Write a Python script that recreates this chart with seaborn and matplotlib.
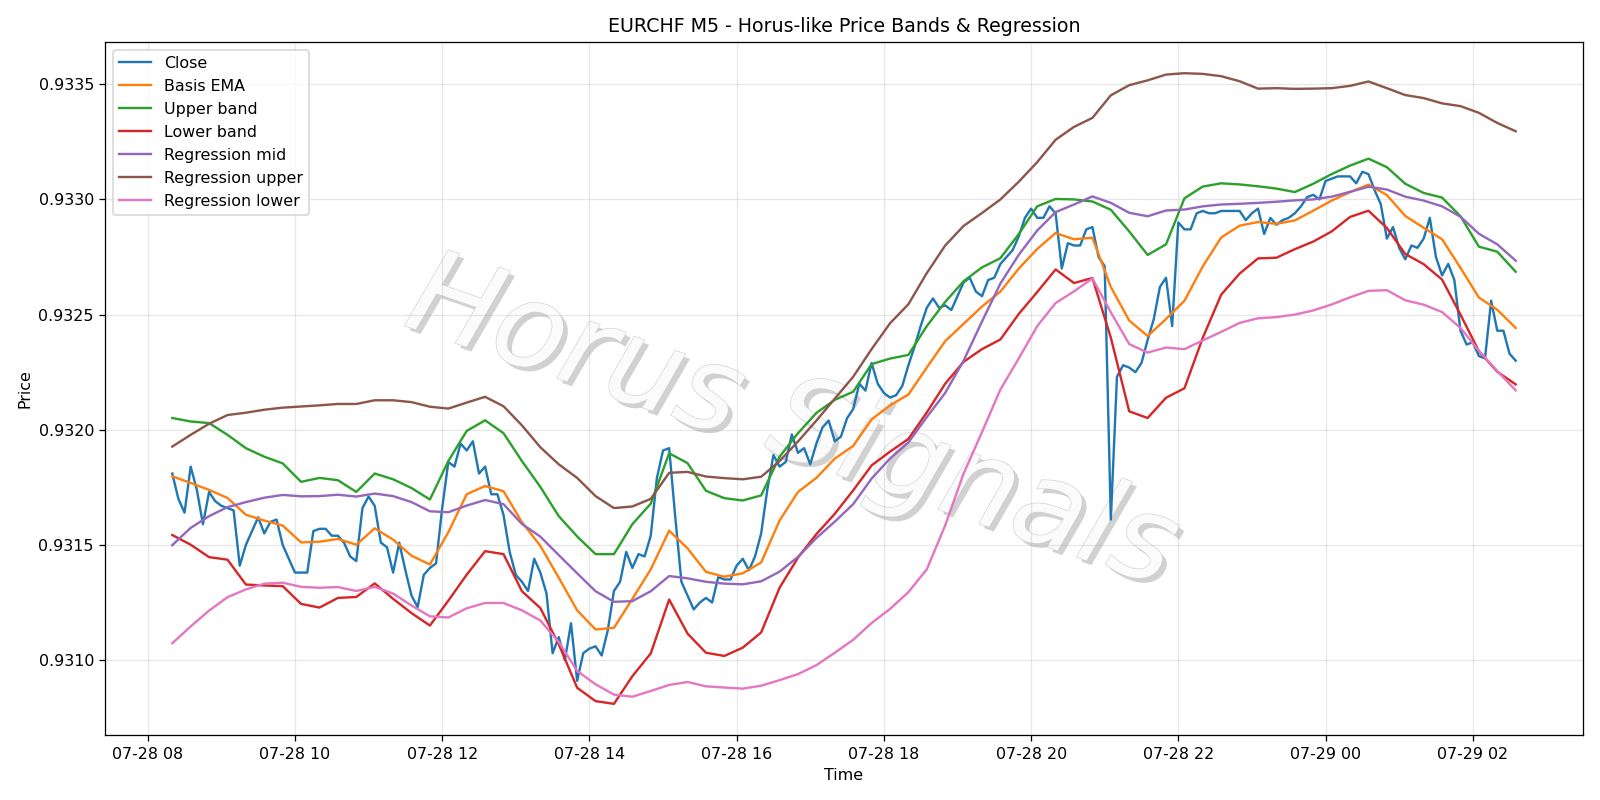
import pandas as pd
import matplotlib
matplotlib.use("Agg")
import matplotlib.pyplot as plt
import matplotlib.patheffects as pe
import seaborn as sns

# EURCHF M5 close, 08:20 -> 02:35 (5 minute bars)
close = [
    0.93181, 0.93170, 0.93164, 0.93184, 0.93174, 0.93159, 0.93173, 0.93169, 0.93167, 0.93166,
    0.93165, 0.93141, 0.93150, 0.93156, 0.93162, 0.93155, 0.93160, 0.93161, 0.93150, 0.93144,
    0.93138, 0.93138, 0.93138, 0.93156, 0.93157, 0.93157, 0.93154, 0.93154, 0.93151, 0.93145,
    0.93143, 0.93166, 0.93171, 0.93167, 0.93151, 0.93149, 0.93138, 0.93151, 0.93139, 0.93128,
    0.93123, 0.93137, 0.93140, 0.93142, 0.93166, 0.93186, 0.93184, 0.93194, 0.93191, 0.93195,
    0.93181, 0.93184, 0.93172, 0.93172, 0.93163, 0.93147, 0.93137, 0.93134, 0.93130, 0.93144,
    0.93138, 0.93129, 0.93103, 0.93110, 0.93100, 0.93116, 0.93091, 0.93103, 0.93105, 0.93106,
    0.93102, 0.93113, 0.93130, 0.93134, 0.93147, 0.93140, 0.93146, 0.93145, 0.93154, 0.93179,
    0.93191, 0.93192, 0.93162, 0.93134, 0.93128, 0.93122, 0.93125, 0.93127, 0.93125, 0.93136,
    0.93135, 0.93135, 0.93141, 0.93144, 0.93139, 0.93145, 0.93155, 0.93174, 0.93189, 0.93184,
    0.93186, 0.93198, 0.93190, 0.93192, 0.93185, 0.93194, 0.93201, 0.93204, 0.93195, 0.93197,
    0.93205, 0.93209, 0.93220, 0.93217, 0.93229, 0.93220, 0.93216, 0.93214, 0.93215, 0.93219,
    0.93228, 0.93236, 0.93245, 0.93253, 0.93257, 0.93253, 0.93254, 0.93252, 0.93258, 0.93264,
    0.93266, 0.93260, 0.93258, 0.93265, 0.93266, 0.93272, 0.93275, 0.93278, 0.93284, 0.93292,
    0.93296, 0.93292, 0.93292, 0.93297, 0.93294, 0.93270, 0.93281, 0.93280, 0.93280, 0.93287,
    0.93288, 0.93275, 0.93271, 0.93161, 0.93223, 0.93228, 0.93227, 0.93225, 0.93229, 0.93239,
    0.93248, 0.93262, 0.93266, 0.93245, 0.93290, 0.93287, 0.93287, 0.93294, 0.93295, 0.93294,
    0.93294, 0.93295, 0.93295, 0.93295, 0.93295, 0.93291, 0.93294, 0.93296, 0.93285, 0.93292,
    0.93289, 0.93291, 0.93292, 0.93294, 0.93297, 0.93301, 0.93302, 0.93300, 0.93308, 0.93309,
    0.93310, 0.93310, 0.93310, 0.93307, 0.93312, 0.93311, 0.93304, 0.93298, 0.93283, 0.93288,
    0.93279, 0.93274, 0.93280, 0.93279, 0.93283, 0.93292, 0.93275, 0.93267, 0.93272, 0.93265,
    0.93243, 0.93237, 0.93238, 0.93232, 0.93231, 0.93256, 0.93243, 0.93243, 0.93233, 0.93230,
]

# indicator lines, read every 15 minutes over the same span
basis_ema = [
    0.931798, 0.931769, 0.931739, 0.931704, 0.931631, 0.931606, 0.931584, 0.931511, 0.931514, 0.931526,
    0.931501, 0.931572, 0.931523, 0.931453, 0.931415, 0.931555, 0.931720, 0.931756, 0.931733, 0.931599,
    0.931496, 0.931358, 0.931216, 0.931133, 0.931140, 0.931266, 0.931394, 0.931562, 0.931485, 0.931383,
    0.931362, 0.931377, 0.931424, 0.931606, 0.931730, 0.931791, 0.931875, 0.931930, 0.932045, 0.932106,
    0.932153, 0.932270, 0.932385, 0.932460, 0.932535, 0.932600, 0.932700, 0.932785, 0.932854, 0.932827,
    0.932834, 0.932620, 0.932474, 0.932407, 0.932481, 0.932560, 0.932710, 0.932835, 0.932886, 0.932902,
    0.932894, 0.932909, 0.932951, 0.932995, 0.933032, 0.933064, 0.933019, 0.932928, 0.932877, 0.932827,
    0.932703, 0.932574, 0.932521, 0.932442,
]
upper_band = [
    0.932051, 0.932036, 0.932029, 0.931978, 0.931920, 0.931883, 0.931854, 0.931774, 0.931791, 0.931781,
    0.931730, 0.931810, 0.931785, 0.931747, 0.931697, 0.931864, 0.931995, 0.932041, 0.931985, 0.931864,
    0.931752, 0.931625, 0.931537, 0.931460, 0.931460, 0.931590, 0.931679, 0.931898, 0.931855, 0.931735,
    0.931703, 0.931693, 0.931715, 0.931883, 0.931985, 0.932073, 0.932130, 0.932165, 0.932285, 0.932309,
    0.932325, 0.932450, 0.932555, 0.932645, 0.932705, 0.932745, 0.932850, 0.932970, 0.933002, 0.933000,
    0.932991, 0.932955, 0.932861, 0.932759, 0.932805, 0.933005, 0.933056, 0.933070, 0.933065, 0.933057,
    0.933047, 0.933032, 0.933068, 0.933110, 0.933147, 0.933177, 0.933140, 0.933068, 0.933028, 0.933008,
    0.932927, 0.932795, 0.932773, 0.932686,
]
lower_band = [
    0.931543, 0.931501, 0.931447, 0.931436, 0.931328, 0.931324, 0.931321, 0.931244, 0.931228, 0.931270,
    0.931274, 0.931333, 0.931266, 0.931204, 0.931150, 0.931258, 0.931371, 0.931473, 0.931460, 0.931299,
    0.931226, 0.931069, 0.930880, 0.930822, 0.930810, 0.930930, 0.931029, 0.931263, 0.931115, 0.931032,
    0.931018, 0.931054, 0.931120, 0.931314, 0.931445, 0.931547, 0.931635, 0.931737, 0.931845, 0.931905,
    0.931960, 0.932075, 0.932200, 0.932295, 0.932350, 0.932392, 0.932503, 0.932598, 0.932696, 0.932637,
    0.932659, 0.932400, 0.932080, 0.932051, 0.932139, 0.932180, 0.932400, 0.932587, 0.932678, 0.932744,
    0.932747, 0.932784, 0.932817, 0.932861, 0.932924, 0.932951, 0.932876, 0.932763, 0.932719, 0.932652,
    0.932500, 0.932341, 0.932252, 0.932197,
]
reg_mid = [
    0.931499, 0.931574, 0.931625, 0.931664, 0.931686, 0.931705, 0.931717, 0.931711, 0.931712, 0.931718,
    0.931710, 0.931723, 0.931712, 0.931686, 0.931646, 0.931642, 0.931671, 0.931695, 0.931677, 0.931591,
    0.931536, 0.931456, 0.931377, 0.931299, 0.931253, 0.931256, 0.931299, 0.931365, 0.931355, 0.931340,
    0.931332, 0.931329, 0.931342, 0.931384, 0.931448, 0.931530, 0.931601, 0.931677, 0.931788, 0.931875,
    0.931945, 0.932055, 0.932160, 0.932300, 0.932470, 0.932635, 0.932760, 0.932865, 0.932945, 0.932978,
    0.933013, 0.932985, 0.932942, 0.932927, 0.932952, 0.932956, 0.932970, 0.932978, 0.932981, 0.932985,
    0.932990, 0.932996, 0.933000, 0.933012, 0.933033, 0.933055, 0.933043, 0.933012, 0.932995, 0.932970,
    0.932925, 0.932851, 0.932805, 0.932734,
]
reg_upper = [
    0.931927, 0.931978, 0.932026, 0.932064, 0.932074, 0.932087, 0.932096, 0.932101, 0.932106, 0.932112,
    0.932112, 0.932128, 0.932128, 0.932120, 0.932100, 0.932092, 0.932118, 0.932143, 0.932102, 0.932019,
    0.931924, 0.931850, 0.931791, 0.931712, 0.931660, 0.931667, 0.931700, 0.931813, 0.931817, 0.931797,
    0.931790, 0.931785, 0.931796, 0.931864, 0.931949, 0.932040, 0.932135, 0.932230, 0.932350, 0.932462,
    0.932545, 0.932680, 0.932800, 0.932885, 0.932941, 0.933000, 0.933077, 0.933162, 0.933259, 0.933315,
    0.933354, 0.933452, 0.933496, 0.933517, 0.933542, 0.933548, 0.933545, 0.933535, 0.933513, 0.933481,
    0.933483, 0.933480, 0.933481, 0.933483, 0.933493, 0.933512, 0.933483, 0.933453, 0.933440, 0.933417,
    0.933405, 0.933376, 0.933332, 0.933296,
]
reg_lower = [
    0.931073, 0.931146, 0.931215, 0.931273, 0.931307, 0.931332, 0.931336, 0.931318, 0.931314, 0.931317,
    0.931300, 0.931318, 0.931289, 0.931237, 0.931190, 0.931185, 0.931225, 0.931248, 0.931248, 0.931216,
    0.931172, 0.931079, 0.930953, 0.930895, 0.930850, 0.930841, 0.930866, 0.930892, 0.930905, 0.930886,
    0.930881, 0.930876, 0.930889, 0.930913, 0.930939, 0.930978, 0.931032, 0.931088, 0.931161, 0.931222,
    0.931295, 0.931394, 0.931585, 0.931810, 0.931990, 0.932175, 0.932310, 0.932450, 0.932550, 0.932601,
    0.932657, 0.932510, 0.932372, 0.932335, 0.932357, 0.932350, 0.932388, 0.932425, 0.932464, 0.932484,
    0.932489, 0.932500, 0.932518, 0.932544, 0.932575, 0.932603, 0.932606, 0.932562, 0.932543, 0.932511,
    0.932442, 0.932343, 0.932255, 0.932171,
]

series_names = ["Close", "Basis EMA", "Upper band", "Lower band",
                "Regression mid", "Regression upper", "Regression lower"]

start = "2025-07-28 08:20"
close_times = pd.date_range(start, periods=len(close), freq="5min")
band_times = pd.date_range(start, periods=len(basis_ema), freq="15min")

frames = [pd.DataFrame({"time": close_times, "price": close, "series": "Close"})]
for name, vals in zip(series_names[1:],
                      [basis_ema, upper_band, lower_band, reg_mid, reg_upper, reg_lower]):
    frames.append(pd.DataFrame({"time": band_times, "price": vals, "series": name}))
df = pd.concat(frames, ignore_index=True)

DPI = 1600 / 14
fig, ax = plt.subplots(figsize=(14, 7), dpi=DPI)

# watermark, sits under the lines
ax.text(0.495, 0.47, "Horus Signals", transform=fig.transFigure, fontsize=74,
        style="italic", color="#fbfbfb", rotation=-19, ha="center", va="center",
        zorder=1,
        path_effects=[pe.SimplePatchShadow(offset=(3, -3), shadow_rgbFace="#8c8c8c", alpha=0.4),
                      pe.Stroke(linewidth=0.8, foreground="#d0d0d0"),
                      pe.Normal()])

sns.lineplot(data=df, x="time", y="price", hue="series", hue_order=series_names,
             palette=sns.color_palette("tab10", 7), linewidth=1.5,
             estimator=None, sort=False, ax=ax, zorder=2)

handles, labels = ax.get_legend_handles_labels()
ax.legend(handles, labels, loc="upper left")
ax.grid(True, alpha=0.3)
ax.set_title("EURCHF M5 - Horus-like Price Bands & Regression")
ax.set_xlabel("Time")
ax.set_ylabel("Price")

plt.tight_layout()
plt.savefig("out.png", dpi=DPI)
plt.close()
